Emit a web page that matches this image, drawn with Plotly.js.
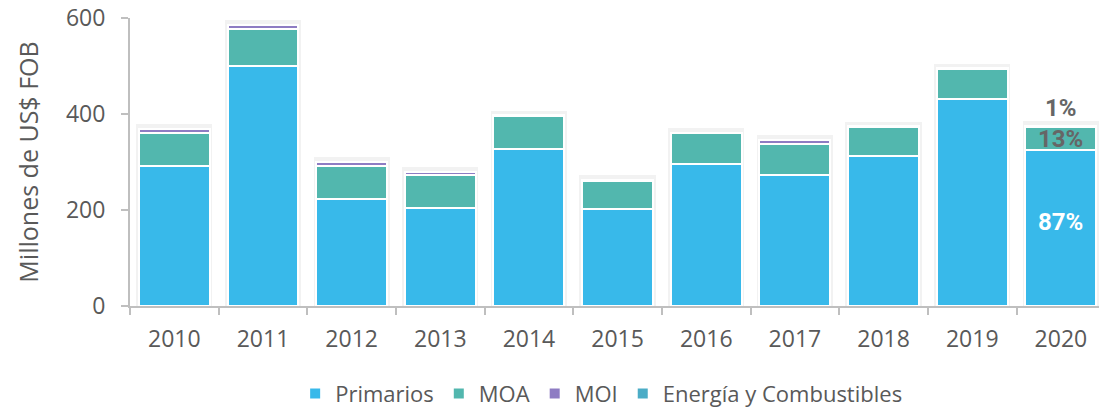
<!DOCTYPE html>
<html>
<head>
<meta charset="utf-8">
<script src="https://cdn.plot.ly/plotly-3.0.1.min.js"></script>
<style>html,body{margin:0;padding:0;background:#fff;}#chart{width:1099px;height:408px;}</style>
</head>
<body>
<div id="chart"></div>
<script>
const years = ['2010','2011','2012','2013','2014','2015','2016','2017','2018','2019','2020'];
const primarios = [291, 500, 222, 205, 327, 202, 295, 273, 313, 431, 325];
const moa       = [ 70,  78,  70,  68,  69,  59,  65,  64,  60,  63,  47];
const moi       = [  8,   8,   9,   6,   1,   1,   1,   9,   1,   1,   3];
const energia   = [  0,   0,   0,   0,   0,   0,   0,   0,   0,   0,   0];
const labels2020 = ['87%', '13%', '1%'];

const totals = years.map((_, i) => primarios[i] + moa[i] + moi[i] + energia[i]);
const last = years.length - 1;

const col = {p:'#38B9EA', moa:'#52B7AE', moi:'#8E7CC3', en:'#4BACC6'};
const fontFam = '"Open Sans", "DejaVu Sans", sans-serif';

const halo = {
  type:'bar', x: years, y: totals.map(t => t + 10), xaxis:'x', yaxis:'y',
  width: 0.86, marker:{color:'#f2f2f2', line:{width:0}}, showlegend:false, hoverinfo:'skip'
};
function seg(name, vals, color){
  return {type:'bar', name, x: years, y: vals, xaxis:'x2', yaxis:'y2', width:0.8,
    marker:{color, line:{color:'#ffffff', width:2}}};
}
const data = [halo,
  seg('Primarios', primarios, col.p),
  seg('MOA', moa, col.moa),
  seg('MOI', moi, col.moi),
  seg('Energía y Combustibles', energia, col.en)
];

const xr = [-0.5, 10.43];
const annFont = (c) => ({family:'Roboto, sans-serif', size:24, color:c, weight:'bold'});
const layout = {
  width:1099, height:408,
  margin:{l:130, r:0, t:18, b:102, autoexpand:false},
  paper_bgcolor:'#fff', plot_bgcolor:'#fff',
  barmode:'stack', bargap:0.2,
  font:{family:fontFam, color:'#595959', size:20},
  showlegend:true,
  legend:{orientation:'h', x:0.547, xref:'container', xanchor:'center', y:0.035, yref:'container', yanchor:'middle',
    font:{size:22, color:'#595959'}, itemwidth:30, traceorder:'normal'},
  xaxis:{type:'category', range:xr, showline:true, linecolor:'#bfbfbf', linewidth:2,
    ticks:'outside', ticklen:7, tickcolor:'#bfbfbf', tickwidth:2, tickson:'boundaries',
    showgrid:false, zeroline:false, ticklabelstandoff:11, automargin:false,
    tickfont:{size:23, color:'#595959'}, fixedrange:true},
  yaxis:{range:[0,600], tickvals:[0,200,400,600], showline:true, linecolor:'#bfbfbf', linewidth:2,
    ticks:'outside', ticklen:7, tickcolor:'#bfbfbf', tickwidth:2, showgrid:false, zeroline:false,
    ticklabelstandoff:11, automargin:false, tickfont:{size:23, color:'#595959'},
    title:{text:'Millones de US$ FOB', font:{size:25, color:'#595959'}, standoff:20}},
  xaxis2:{type:'category', overlaying:'x', range:xr, visible:false},
  yaxis2:{overlaying:'y', range:[0,600], visible:false},
  annotations:[
    {x: last, y: primarios[last]/2, xref:'x', yref:'y', text:labels2020[0], showarrow:false,
      yshift:6, font:annFont('#ffffff')},
    {x: last, y: primarios[last] + moa[last]/2, xref:'x', yref:'y', text:labels2020[1], showarrow:false,
      font:annFont('#666666')},
    {x: last, y: totals[last], xref:'x', yref:'y', text:labels2020[2], showarrow:false,
      yanchor:'bottom', yshift:2, font:annFont('#666666')}
  ]
};
Plotly.newPlot('chart', data, layout, {displayModeBar:false, staticPlot:true});
</script>
</body>
</html>
